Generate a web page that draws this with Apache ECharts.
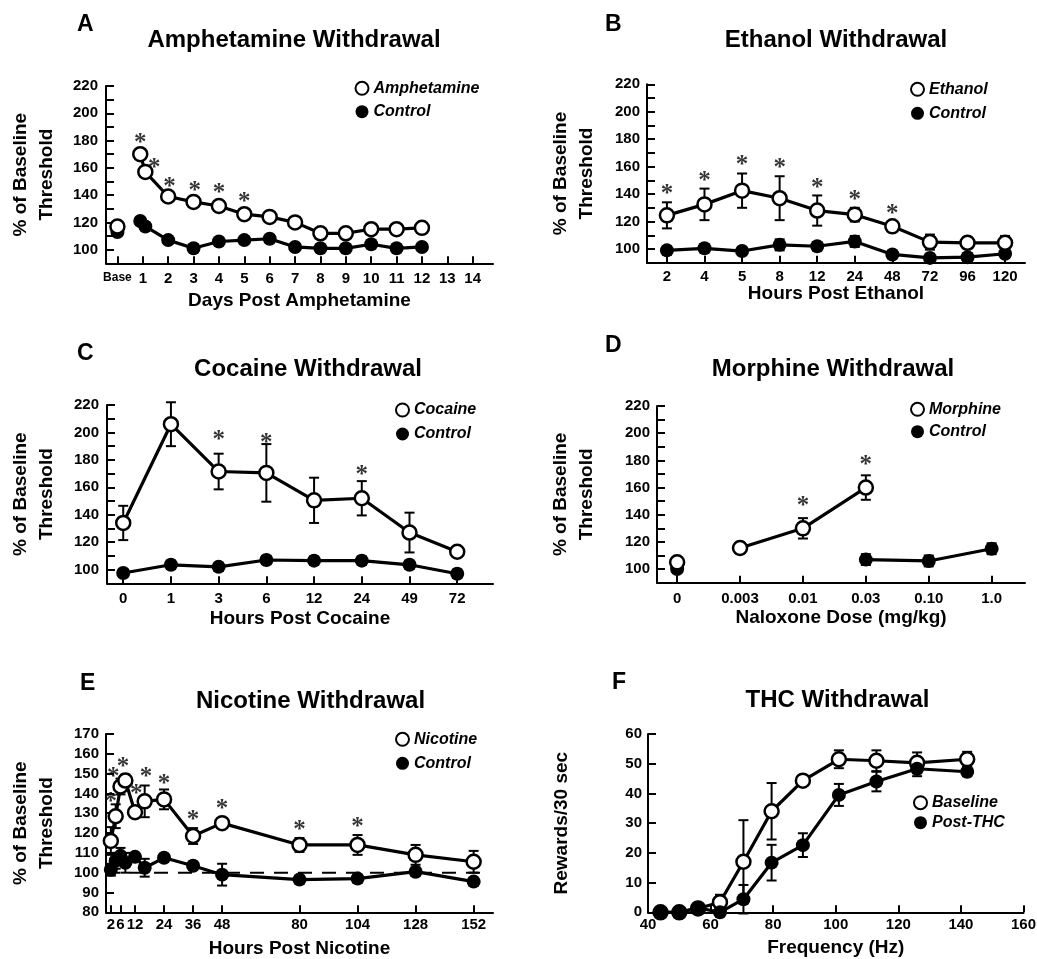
<!DOCTYPE html>
<html><head><meta charset="utf-8">
<script src="https://cdn.jsdelivr.net/npm/echarts@6/dist/echarts.min.js"></script>
<style>html,body{margin:0;padding:0;background:#fff}#c{width:1037px;height:959px}</style>
</head><body><div id="c"></div>
<script>
const FONT = '"Liberation Sans", Arial, Helvetica, sans-serif';
const STARFONT = '"Liberation Serif", "Times New Roman", serif';

// ---------- Panel A: Amphetamine ----------
const ampDays = [0.9, 1.1, 2, 3, 4, 5, 6, 7, 8, 9, 10, 11, 12];
const ampDrug = [170, 157, 139, 135, 132, 126, 124, 120, 112, 112, 115, 115, 116];
const ampCtrl = [121, 117, 107, 101, 106, 107, 108, 102, 101, 101, 104, 101, 102];
const ampBaseDay = [0];
const ampBaseDrug = [117];
const ampBaseCtrl = [113];
const ampTicks = [0, 1, 2, 3, 4, 5, 6, 7, 8, 9, 10, 11, 12, 13, 14];
const ampStarX = [0.9, 1.45, 2.05, 3.05, 4, 5];
const ampStarY = [181.5, 163, 149, 146, 145, 138.5];

// ---------- Panel B: Ethanol ----------
const ethLabels = ['2', '4', '5', '8', '12', '24', '48', '72', '96', '120'];
const ethDrug = [124.5, 132.5, 142.5, 137, 128, 125, 116.5, 105, 104.5, 104.5];
const ethDrugErr = [9.5, 11.5, 12.5, 16, 11, 5, 3, 5.5, 4, 5];
const ethCtrl = [99, 100.5, 98.5, 103, 102, 105.5, 96, 93.5, 94, 96.5];
const ethCtrlErr = [3, 3, 3, 4, 3, 4, 2, 3, 3, 2];
const ethStarIdx = [0, 1, 2, 3, 4, 5, 6];
const ethStarY = [143, 153, 164.5, 162, 148, 139, 128.5];

// ---------- Panel C: Cocaine ----------
const cocLabels = ['0', '1', '3', '6', '12', '24', '49', '72'];
const cocDrug = [134, 206, 171.5, 170.5, 150.5, 152, 127, 113];
const cocDrugErr = [12.5, 16, 13, 21, 16.5, 12.5, 14.5, 2];
const cocCtrl = [97.5, 103.5, 102, 107, 106.5, 106.5, 103.5, 97];
const cocCtrlErr = [3, 3, 3, 3, 3, 3, 3, 3];
const cocStarIdx = [1, 2, 3, 5];
const cocStarY = [227, 198, 195.5, 172.5];

// ---------- Panel D: Morphine ----------
const morLabels = ['0', '0.003', '0.01', '0.03', '0.10', '1.0'];
const morZeroIdx = [0];
const morZeroDrug = [105];
const morZeroCtrl = [100];
const morDrugIdx = [1, 2, 3];
const morDrug = [115.5, 130, 160];
const morDrugErr = [4, 7.5, 9];
const morCtrlIdx = [3, 4, 5];
const morCtrl = [107, 106, 115];
const morCtrlErr = [4, 4, 4];
const morStarIdx = [2, 3];
const morStarY = [149.5, 180];

// ---------- Panel E: Nicotine ----------
const nicHours = [2, 4, 6, 8, 12, 16, 24, 36, 48, 80, 104, 128, 152];
const nicDrug = [116, 128.5, 143.5, 146.5, 130.5, 136, 137, 118.5, 125, 114, 114, 109, 105.5];
const nicDrugErr = [7, 6, 4, 3, 2.5, 8, 5, 4, 2, 3.5, 5, 5, 5.5];
const nicCtrl = [101.5, 106, 108.5, 105, 108, 102.5, 107.5, 103.5, 99, 96.5, 97, 100.5, 95.5];
const nicCtrlErr = [3, 4, 4, 5, 2, 4.5, 2, 2, 5.5, 2, 2, 2, 2];
const nicTicks = [2, 6, 12, 24, 36, 48, 80, 104, 128, 152];
const nicStarX = [2, 3, 7, 12.5, 16.5, 24, 36, 48, 80, 104];
const nicStarY = [138, 150.5, 155.5, 142, 150.5, 147, 129, 134.5, 124, 125.5];
const nicRefX = [0, 158];
const nicRefY = [100, 100];

// ---------- Panel F: THC ----------
const thcHz = [44, 50, 56, 63, 70.5, 79.5, 89.5, 101, 113, 126, 142];
const thcBase = [0, 0, 1.3, 3.4, 17, 34, 44.3, 51.5, 51, 50.3, 51.5];
const thcBaseErr = [0, 0, 0.5, 2.5, 14, 9.5, 1.5, 3, 3.5, 3.5, 2.5];
const thcPost = [0, 0, 1.5, 0, 4.4, 16.7, 22.6, 39.5, 44, 48.3, 47.3];
const thcPostErr = [0, 0, 0.5, 0.5, 4.8, 6, 4, 3.7, 3.3, 2.5, 1.5];

// y tick values
const pctLabels = [100, 120, 140, 160, 180, 200, 220];
const pctTicks = [100, 110, 120, 130, 140, 150, 160, 170, 180, 190, 200, 210, 220];
const nicYLabels = [80, 90, 100, 110, 120, 130, 140, 150, 160, 170];
const thcYLabels = [0, 10, 20, 30, 40, 50, 60];
const thcXLabels = [40, 60, 80, 100, 120, 140, 160];

// ---------- helpers ----------
const idx = arr => arr.map((_, i) => i);
const pairs = (xs, ys) => xs.map((x, i) => [x, ys[i]]);
const errData = (xs, ys, es) => xs.map((x, i) => [x, ys[i] - es[i], ys[i] + es[i]]).filter((d, i) => es[i] > 0);

function lineS(name, data, gi, open) {
  return {
    type: 'line', name, xAxisIndex: gi, yAxisIndex: gi, data,
    symbol: 'circle', symbolSize: 14, showSymbol: true, silent: true, z: 3,
    lineStyle: { color: '#000', width: 3.2 },
    itemStyle: open ? { color: '#fff', borderColor: '#000', borderWidth: 2.5 } : { color: '#000', borderColor: '#000', borderWidth: 0 },
    emphasis: { disabled: true }
  };
}
function dotS(data, gi, open) {
  return {
    type: 'scatter', xAxisIndex: gi, yAxisIndex: gi, data, symbol: 'circle', symbolSize: 14, silent: true, z: 3,
    itemStyle: open ? { color: '#fff', borderColor: '#000', borderWidth: 2.5, opacity: 1 } : { color: '#000', borderWidth: 0, opacity: 1 },
    emphasis: { disabled: true }
  };
}
function errS(data, gi) {
  return {
    type: 'custom', xAxisIndex: gi, yAxisIndex: gi, data, encode: { x: 0, y: [1, 2] }, z: 2, silent: true,
    renderItem(params, api) {
      const x = api.value(0), lo = api.value(1), hi = api.value(2);
      const a = api.coord([x, hi]), b = api.coord([x, lo]);
      const w = 5, st = { stroke: '#000', lineWidth: 2 };
      return { type: 'group', children: [
        { type: 'line', shape: { x1: a[0], y1: a[1], x2: b[0], y2: b[1] }, style: st },
        { type: 'line', shape: { x1: a[0] - w, y1: a[1], x2: a[0] + w, y2: a[1] }, style: st },
        { type: 'line', shape: { x1: b[0] - w, y1: b[1], x2: b[0] + w, y2: b[1] }, style: st }
      ] };
    }
  };
}
function starS(data, gi) {
  return {
    type: 'scatter', xAxisIndex: gi, yAxisIndex: gi, data, symbol: 'circle', symbolSize: 1, silent: true, z: 4,
    itemStyle: { color: 'rgba(0,0,0,0)' },
    label: { show: true, position: 'inside', formatter: '*', fontFamily: STARFONT, fontWeight: 'bold', fontSize: 25, color: '#000', offset: [0, 5] },
    emphasis: { disabled: true }
  };
}
const txt = (size, extra) => Object.assign({ fontFamily: FONT, fontWeight: 'bold', fontSize: size, color: '#000' }, extra || {});
function xAx(gi, min, max, vals, fmt, name, nameGap, margin) {
  return {
    type: 'value', gridIndex: gi, min, max, name, nameLocation: 'middle', nameGap, nameMoveOverlap: false,
    nameTextStyle: txt(19, { lineHeight: 19 }),
    axisLine: { show: true, onZero: false, lineStyle: { color: '#000', width: 2 } },
    axisTick: { show: true, inside: true, length: 7, customValues: vals, lineStyle: { color: '#000', width: 2 } },
    axisLabel: Object.assign(txt(15), { show: true, customValues: vals, formatter: fmt, margin,
      rich: { s: txt(12) } }),
    splitLine: { show: false }, minorTick: { show: false }
  };
}
function yAx(gi, min, max, labels, ticks, name, nameGap, margin) {
  return {
    type: 'value', gridIndex: gi, min, max, name, nameLocation: 'middle', nameGap, nameMoveOverlap: false,
    nameTextStyle: txt(19, { lineHeight: 26 }),
    axisLine: { show: true, onZero: false, lineStyle: { color: '#000', width: 2 } },
    axisTick: { show: true, inside: true, length: 8, customValues: ticks, lineStyle: { color: '#000', width: 2 } },
    axisLabel: Object.assign(txt(15), { show: true, customValues: labels, margin }),
    splitLine: { show: false }, minorTick: { show: false }
  };
}
function legendC(names, left, top, gap) {
  return {
    show: true, orient: 'vertical', left, top, padding: 0, itemGap: gap, itemWidth: 13, itemHeight: 13,
    selectedMode: false, textStyle: txt(16, { fontStyle: 'italic', lineHeight: 16 }),
    data: names.map((n, i) => ({ name: n, icon: 'circle',
      itemStyle: i === 0 ? { color: '#fff', borderColor: '#000', borderWidth: 2 } : { color: '#000', borderColor: '#000', borderWidth: 0 } }))
  };
}
const mctx = document.createElement('canvas').getContext('2d');
function centeredTitle(text, cx, cy, size) {
  mctx.font = 'bold ' + size + 'px ' + FONT;
  const w = mctx.measureText(text).width;
  return { text, left: cx - w / 2, top: cy - size / 2, padding: 0, textStyle: txt(size, { lineHeight: size }) };
}
const letter = (t, left, cy) => ({ text: t, left, top: cy - 11.5, padding: 0, textStyle: txt(23, { lineHeight: 23 }) });

const catFmt = labels => v => labels[Math.round(v)];
const yName = '% of Baseline\nThreshold';

const option = {
  animation: false,
  backgroundColor: '#fff',
  title: [
    letter('A', 77, 24.5), letter('B', 605, 24.2), letter('C', 77, 353.3),
    letter('D', 605, 345.8), letter('E', 80, 684), letter('F', 612, 682.5),
    centeredTitle('Amphetamine Withdrawal', 294, 40.5, 24),
    centeredTitle('Ethanol Withdrawal', 836, 40.5, 24),
    centeredTitle('Cocaine Withdrawal', 308, 369, 24),
    centeredTitle('Morphine Withdrawal', 833, 369, 24),
    centeredTitle('Nicotine Withdrawal', 310.5, 701.5, 24),
    centeredTitle('THC Withdrawal', 837.5, 700, 24)
  ],
  legend: [
    legendC(['Amphetamine', 'Control'], 354.5, 80.3, 7.4),
    legendC(['Ethanol', 'Control'], 910, 81.3, 8),
    legendC(['Cocaine', 'Control'], 395, 402, 8),
    legendC(['Morphine', 'Control'], 910, 401.3, 6.4),
    legendC(['Nicotine', 'Control'], 395, 731.3, 8),
    legendC(['Baseline', 'Post-THC'], 913, 794.7, 4)
  ],
  grid: [
    { left: 106, top: 86, width: 387, height: 177.3, outerBoundsMode: 'none' },
    { left: 647, top: 84.3, width: 378, height: 178.4, outerBoundsMode: 'none' },
    { left: 107, top: 405, width: 386, height: 178.3, outerBoundsMode: 'none' },
    { left: 657, top: 406, width: 368, height: 176.7, outerBoundsMode: 'none' },
    { left: 106, top: 734, width: 387, height: 178.3, outerBoundsMode: 'none' },
    { left: 648, top: 734, width: 375.5, height: 178.3, outerBoundsMode: 'none' }
  ],
  xAxis: [
    xAx(0, -0.45, 14.8, ampTicks, v => v === 0 ? '{s|Base}' : String(v), 'Days Post Amphetamine', 28, 8),
    xAx(1, -0.53, 9.53, idx(ethLabels), catFmt(ethLabels), 'Hours Post Ethanol', 22, 6.5),
    xAx(2, -0.34, 7.75, idx(cocLabels), catFmt(cocLabels), 'Hours Post Cocaine', 26, 8.5),
    xAx(3, -0.32, 5.53, idx(morLabels), catFmt(morLabels), 'Naloxone Dose (mg/kg)', 26, 8.5),
    xAx(4, 0, 160, nicTicks, v => String(v), 'Hours Post Nicotine', 27, 5),
    xAx(5, 40, 160, thcXLabels, v => String(v), 'Frequency (Hz)', 26, 5.5)
  ],
  yAxis: [
    yAx(0, 90, 220, pctLabels, pctTicks, yName, 46, 8),
    yAx(1, 90, 220, pctLabels, pctTicks, yName, 47, 7),
    yAx(2, 90, 220, pctLabels, pctTicks, yName, 47, 8),
    yAx(3, 90, 220, pctLabels, pctTicks, yName, 57, 7),
    yAx(4, 80, 170, nicYLabels, nicYLabels, yName, 46, 7),
    yAx(5, 0, 60, thcYLabels, thcYLabels, 'Rewards/30 sec', 73, 6)
  ],
  series: [
    // A
    lineS('Control', pairs(ampDays, ampCtrl), 0, false),
    lineS('Amphetamine', pairs(ampDays, ampDrug), 0, true),
    dotS(pairs(ampBaseDay, ampBaseCtrl), 0, false),
    dotS(pairs(ampBaseDay, ampBaseDrug), 0, true),
    starS(pairs(ampStarX, ampStarY), 0),
    // B
    errS(errData(idx(ethLabels), ethCtrl, ethCtrlErr), 1),
    errS(errData(idx(ethLabels), ethDrug, ethDrugErr), 1),
    lineS('Control', pairs(idx(ethLabels), ethCtrl), 1, false),
    lineS('Ethanol', pairs(idx(ethLabels), ethDrug), 1, true),
    starS(pairs(ethStarIdx, ethStarY), 1),
    // C
    errS(errData(idx(cocLabels), cocCtrl, cocCtrlErr), 2),
    errS(errData(idx(cocLabels), cocDrug, cocDrugErr), 2),
    lineS('Control', pairs(idx(cocLabels), cocCtrl), 2, false),
    lineS('Cocaine', pairs(idx(cocLabels), cocDrug), 2, true),
    starS(pairs(cocStarIdx, cocStarY), 2),
    // D
    errS(errData(morCtrlIdx, morCtrl, morCtrlErr), 3),
    errS(errData(morDrugIdx, morDrug, morDrugErr), 3),
    dotS(pairs(morZeroIdx, morZeroCtrl), 3, false),
    dotS(pairs(morZeroIdx, morZeroDrug), 3, true),
    lineS('Control', pairs(morCtrlIdx, morCtrl), 3, false),
    lineS('Morphine', pairs(morDrugIdx, morDrug), 3, true),
    starS(pairs(morStarIdx, morStarY), 3),
    // E
    { type: 'line', xAxisIndex: 4, yAxisIndex: 4, data: pairs(nicRefX, nicRefY), symbol: 'none', silent: true, z: 1,
      lineStyle: { color: '#000', width: 2, type: [14, 10] } },
    errS(errData(nicHours, nicCtrl, nicCtrlErr), 4),
    errS(errData(nicHours, nicDrug, nicDrugErr), 4),
    lineS('Control', pairs(nicHours, nicCtrl), 4, false),
    lineS('Nicotine', pairs(nicHours, nicDrug), 4, true),
    starS(pairs(nicStarX, nicStarY), 4),
    // F
    errS(errData(thcHz, thcBase, thcBaseErr), 5),
    errS(errData(thcHz, thcPost, thcPostErr), 5),
    lineS('Baseline', pairs(thcHz, thcBase), 5, true),
    lineS('Post-THC', pairs(thcHz, thcPost), 5, false)
  ]
};

const chart = echarts.init(document.getElementById('c'), null, { renderer: 'canvas' });
chart.setOption(option);
</script>
</body></html>
